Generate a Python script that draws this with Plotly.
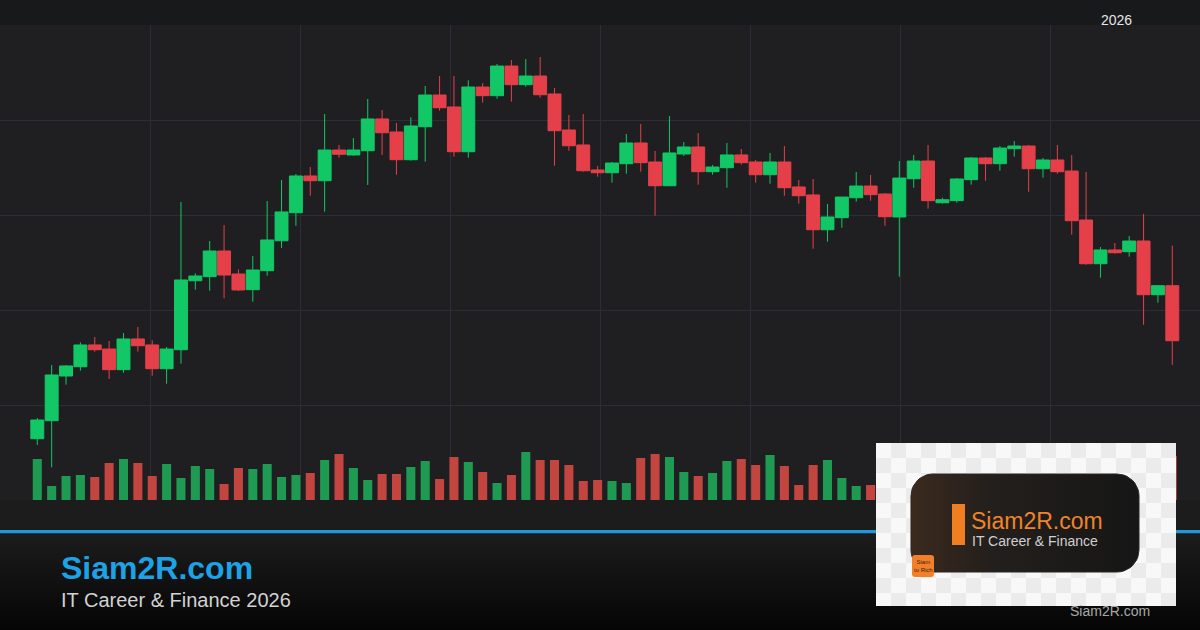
import plotly.graph_objects as go

# ---------------- data ----------------
idx = list(range(80))
open_ = [66.45, 68.35, 73.05, 74.03, 76.32, 75.89, 73.72, 76.95, 76.32, 73.82,
         75.82, 83.08, 83.51, 86.21, 83.79, 82.14, 84.14, 87.29, 90.24, 94.11,
         93.61, 96.84, 96.32, 96.77, 100.11, 98.74, 95.82, 99.29, 102.63, 101.37,
         96.66, 103.47, 102.56, 105.68, 103.72, 104.63, 102.74, 98.95, 97.37, 94.74,
         94.45, 95.40, 97.58, 95.58, 93.08, 96.42, 97.16, 94.56, 94.98, 96.32,
         95.58, 94.24, 95.58, 92.95, 92.11, 88.45, 89.72, 91.82, 93.05, 92.21,
         89.79, 93.82, 95.68, 91.29, 91.51, 93.72, 96.00, 95.40, 96.98, 97.26,
         94.87, 95.79, 94.63, 89.47, 84.87, 86.32, 86.14, 87.26, 81.61, 82.56]
high = [68.63, 74.21, 74.21, 76.60, 77.16, 76.74, 77.58, 78.21, 76.81, 76.11,
        91.37, 83.86, 87.26, 88.95, 84.28, 85.68, 91.47, 93.68, 94.32, 95.05,
        100.63, 97.37, 98.11, 102.21, 101.05, 99.68, 100.28, 103.58, 104.63, 104.63,
        104.18, 103.89, 105.89, 106.32, 106.42, 106.63, 103.37, 100.53, 100.63, 95.16,
        95.58, 98.53, 99.58, 96.74, 100.42, 97.68, 98.63, 95.26, 97.58, 96.95,
        95.79, 96.53, 97.26, 93.68, 93.79, 91.16, 91.89, 94.53, 94.21, 92.32,
        95.68, 96.32, 97.37, 91.82, 93.89, 96.11, 96.11, 97.26, 97.79, 97.37,
        96.00, 97.37, 96.32, 94.53, 86.63, 87.05, 87.79, 90.11, 82.56, 86.77]
low = [65.79, 63.44, 72.14, 73.61, 75.61, 72.74, 73.40, 75.61, 73.08, 72.24,
       74.35, 82.14, 82.03, 81.23, 82.00, 80.87, 83.61, 86.53, 88.87, 92.03,
       90.35, 96.03, 96.24, 93.16, 96.32, 94.24, 95.72, 95.61, 100.98, 96.14,
       96.03, 101.82, 102.24, 101.93, 103.51, 102.35, 95.19, 96.77, 94.56, 94.03,
       93.40, 94.35, 94.56, 89.93, 93.05, 96.21, 93.19, 94.24, 92.87, 95.29,
       93.40, 93.29, 92.03, 91.19, 86.45, 87.19, 88.66, 91.40, 91.51, 88.87,
       83.51, 92.87, 90.66, 91.19, 91.29, 93.19, 93.61, 94.66, 96.14, 92.45,
       93.93, 94.35, 87.93, 84.77, 83.40, 85.93, 85.61, 78.45, 80.77, 74.24]
close = [68.42, 73.16, 74.11, 76.32, 75.82, 73.72, 76.95, 76.24, 73.82, 75.89,
         83.16, 83.58, 86.21, 83.68, 82.11, 84.21, 87.37, 90.32, 94.11, 93.61,
         96.84, 96.39, 96.84, 100.11, 98.66, 95.82, 99.37, 102.63, 101.29, 96.66,
         103.47, 102.56, 105.68, 103.72, 104.63, 102.66, 98.87, 97.29, 94.66, 94.45,
         95.47, 97.58, 95.51, 93.08, 96.53, 97.16, 94.56, 95.05, 96.32, 95.51,
         94.24, 95.58, 92.87, 92.03, 88.45, 89.79, 91.89, 93.05, 92.14, 89.82,
         93.89, 95.68, 91.51, 91.61, 93.79, 96.00, 95.40, 97.05, 97.26, 94.87,
         95.79, 94.56, 89.40, 84.87, 86.32, 86.03, 87.26, 81.61, 82.56, 76.77]
volume = [4.1, 1.4, 2.4, 2.5, 2.3, 3.7, 4.1, 3.7, 2.4, 3.6,
          2.2, 3.4, 3.1, 1.6, 3.2, 3.1, 3.6, 2.3, 2.5, 2.7,
          4.0, 4.6, 3.2, 2.0, 2.6, 2.6, 3.3, 3.9, 2.1, 4.3,
          3.8, 2.8, 1.7, 2.5, 4.8, 4.0, 4.0, 3.5, 1.9, 2.0,
          1.9, 1.7, 4.2, 4.6, 4.3, 2.8, 2.4, 2.7, 3.9, 4.1,
          3.5, 4.5, 3.4, 1.5, 3.5, 4.0, 2.2, 1.4, 1.5, 3.0,
          3.8, 2.6, 3.2, 2.4, 2.9, 3.1, 2.2, 2.7, 3.5, 2.8,
          2.5, 4.2, 4.4, 3.0, 2.3, 2.6, 4.0, 2.9, 2.1, 4.4]
year_label = "2026"
brand = "Siam2R.com"
tagline = "IT Career & Finance 2026"
logo_tag = "IT Career & Finance"

# ---------------- styling ----------------
BG = "#1f1f21"
GRID = "#2b2e38"
GREEN = "#12c866"
RED = "#e5404a"
VGREEN = "#1f9a52"
VRED = "#c2453f"
FONT = "Liberation Sans, Arial, sans-serif"

vol_colors = [VGREEN if c >= o else VRED for o, c in zip(open_, close)]

fig = go.Figure()

fig.add_trace(go.Bar(x=idx, y=volume, yaxis="y2", width=0.63,
                     marker=dict(color=vol_colors, line_width=0),
                     hoverinfo="skip", showlegend=False))
fig.add_trace(go.Candlestick(x=idx, open=open_, high=high, low=low, close=close,
                             increasing=dict(line=dict(color=GREEN, width=1), fillcolor=GREEN),
                             decreasing=dict(line=dict(color=RED, width=1), fillcolor=RED),
                             whiskerwidth=0, showlegend=False, hoverinfo="skip"))

# --------- pixel overlay (x3/y3) for footer and logo decoration ---------
def rounded(x0, y0, x1, y1, r, n=10):
    import math
    xs, ys = [], []
    corners = [(x1 - r, y0 + r, -90, 0), (x1 - r, y1 - r, 0, 90),
               (x0 + r, y1 - r, 90, 180), (x0 + r, y0 + r, 180, 270)]
    for cx, cy, a0, a1 in corners:
        for k in range(n + 1):
            a = math.radians(a0 + (a1 - a0) * k / n)
            xs.append(cx + r * math.cos(a))
            ys.append(cy + r * math.sin(a))
    xs.append(xs[0]); ys.append(ys[0])
    return xs, ys

# footer vertical gradient (heatmap bands, drawn before the checker heatmap)
fy = [533.5 + 2 * k for k in range(49)] + [630]
fz = [[k] for k in range(49)]
fig.add_trace(go.Heatmap(x=[0, 1200], y=fy, z=fz, zmin=0, zmax=48,
                         colorscale=[[0, "#1c1c1c"], [1, "#050505"]], showscale=False,
                         xaxis="x3", yaxis="y3", hoverinfo="skip"))

xe = [876 + 15 * k for k in range(21)]
ye = [443 + 15 * k for k in range(11)] + [606]
zc = [[(r + c) % 2 for c in range(20)] for r in range(11)]
fig.add_trace(go.Heatmap(x=xe, y=ye, z=zc, zmin=0, zmax=1,
                         colorscale=[[0, "#f8f8f8"], [1, "#ebebeb"]], showscale=False,
                         xaxis="x3", yaxis="y3", hoverinfo="skip"))

rx, ry = rounded(911, 474, 1139, 572, 22)
fig.add_trace(go.Scatter(x=rx, y=ry, fill="toself", mode="lines",
                         line=dict(color="#2a2624", width=1),
                         fillgradient=dict(type="horizontal", start=911, stop=1139,
                                           colorscale=[[0, "#3b2a1e"], [0.35, "#231f1c"], [1, "#161616"]]),
                         xaxis="x3", yaxis="y3", hoverinfo="skip", showlegend=False))

shapes = [
    dict(type="rect", xref="x3", yref="y3", x0=0, x1=1200, y0=0, y1=25,
         fillcolor="#18191b", line_width=0, layer="below"),
    dict(type="rect", xref="x3", yref="y3", x0=0, x1=1200, y0=500, y1=530,
         fillcolor="#1c1c1d", line_width=0, layer="below"),
    dict(type="rect", xref="x3", yref="y3", x0=0, x1=1200, y0=530, y1=533.5,
         fillcolor="#1e98d8", line_width=0, layer="below"),
    dict(type="rect", xref="x3", yref="y3", x0=952, x1=965, y0=504, y1=545,
         fillcolor="#f07f22", line_width=0, layer="above"),
    dict(type="path", xref="x3", yref="y3",
         path="M 915,555 L 931,555 Q 934,555 934,558 L 934,574 Q 934,577 931,577 "
              "L 915,577 Q 912,577 912,574 L 912,558 Q 912,555 915,555 Z",
         fillcolor="#f2802a", line_width=0, layer="above"),
]

ann = [
    dict(text=year_label, x=1116, y=20, xanchor="center", yanchor="middle",
         font=dict(size=14, color="#e6e6e6", family=FONT)),
    dict(text="<b>" + brand + "</b>", x=59, y=568, xanchor="left", yanchor="middle",
         font=dict(size=32, color="#1ea2e6", family=FONT)),
    dict(text=tagline, x=59, y=600, xanchor="left", yanchor="middle",
         font=dict(size=20, color="#d2d2d2", family=FONT)),
    dict(text=brand, x=969, y=521, xanchor="left", yanchor="middle",
         font=dict(size=23, color="#f08428", family=FONT)),
    dict(text=logo_tag, x=970, y=541, xanchor="left", yanchor="middle",
         font=dict(size=14, color="#d0d0d0", family=FONT)),
    dict(text="Siam<br>to Rich", x=923, y=566, xanchor="center", yanchor="middle",
         font=dict(size=6, color="#3a2010", family=FONT)),
    dict(text=brand, x=1110, y=611, xanchor="center", yanchor="middle",
         font=dict(size=14, color="#a8a8a8", family=FONT)),
]
for a in ann:
    a.update(xref="x3", yref="y3", showarrow=False)

fig.update_layout(
    width=1200, height=630,
    margin=dict(l=0, r=0, t=0, b=0, pad=0),
    paper_bgcolor=BG, plot_bgcolor="rgba(0,0,0,0)",
    showlegend=False, hovermode=False,
    boxgap=0.1, boxgroupgap=0,
    xaxis=dict(domain=[0, 1], range=[-2.596, 80.928], tick0=7.879, dtick=10.4406,
               showgrid=True, gridcolor=GRID, gridwidth=1, showticklabels=False,
               zeroline=False, showline=False, ticks="", fixedrange=True,
               rangeslider=dict(visible=False)),
    yaxis=dict(domain=[130 / 630, 605 / 630], range=[60, 110], dtick=10,
               showgrid=True, gridcolor=GRID, gridwidth=1, showticklabels=False,
               zeroline=False, showline=False, ticks="", fixedrange=True),
    yaxis2=dict(overlaying="y", range=[0, 47.5], visible=False, fixedrange=True),
    xaxis3=dict(domain=[0, 1], range=[0, 1200], visible=False, anchor="y3", fixedrange=True),
    yaxis3=dict(domain=[0, 1], range=[630, 0], visible=False, anchor="x3", fixedrange=True),
    shapes=shapes, annotations=ann,
)

fig.write_html("out.html", config={"displayModeBar": False},
               post_script="document.body.style.margin='0';")
